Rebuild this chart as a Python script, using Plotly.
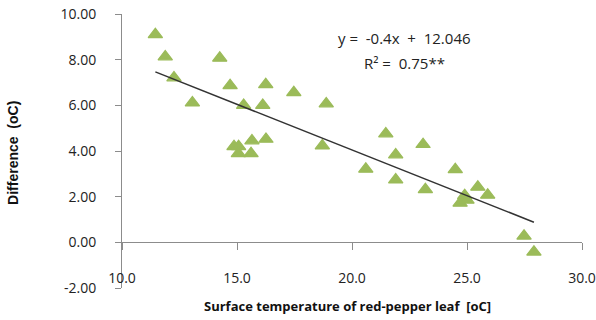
import plotly.graph_objects as go

# Data
leaf_temp = [11.45, 11.88, 12.26, 13.06, 14.25, 14.70, 16.25, 15.29, 16.12,
             14.87, 15.07, 15.06, 15.65, 15.61, 16.26, 17.47, 18.88, 21.47,
             18.71, 23.09, 21.90, 20.60, 21.90, 24.49, 23.19, 25.47, 25.90,
             24.90, 24.70, 25.00, 27.48, 27.91]
difference = [9.10, 8.13, 7.21, 6.11, 8.07, 6.87, 6.91, 6.00, 6.00,
              4.20, 4.20, 3.89, 4.45, 3.89, 4.52, 6.56, 6.07, 4.76,
              4.23, 4.29, 3.84, 3.21, 2.74, 3.19, 2.31, 2.42, 2.07,
              2.05, 1.72, 1.85, 0.28, -0.42]

slope = -0.4
intercept = 12.046
eq_text = "y =\u00a0 -0.4x\u00a0 +\u00a0 12.046"
r2_text = "R² =\u00a0 0.75**"

x_title = "Surface temperature of red-pepper leaf  [oC]"
y_title = "Difference  (oC)"

x_range = [10, 30]
y_range = [-2, 10]
x_tickvals = [10, 15, 20, 25, 30]
x_ticktext = ["10.0", "15.0", "20.0", "25.0", "30.0"]
y_tickvals = [-2, 0, 2, 4, 6, 8, 10]
y_ticktext = ["-2.00", "0.00", "2.00", "4.00", "6.00", "8.00", "10.00"]

trend_x = [min(leaf_temp), max(leaf_temp)]
trend_y = [slope * v + intercept for v in trend_x]

font_family = "Open Sans, Noto Sans, DejaVu Sans, sans-serif"

fig = go.Figure()
fig.add_trace(go.Scatter(
    x=leaf_temp, y=difference, mode="markers",
    marker=dict(symbol="triangle-up", size=12.5, color="#9BBB59",
                line=dict(width=1.2, color="#9BBB59")),
    showlegend=False, hoverinfo="skip"))
fig.add_trace(go.Scatter(
    x=trend_x, y=trend_y, mode="lines",
    line=dict(color="#333333", width=1.5),
    showlegend=False, hoverinfo="skip"))

zero_pos = (0 - y_range[0]) / (y_range[1] - y_range[0])

fig.update_layout(
    width=596, height=320,
    margin=dict(l=122, r=14, t=14, b=32),
    paper_bgcolor="white", plot_bgcolor="white",
    font=dict(family=font_family, size=14, color="#222222"),
    xaxis=dict(range=x_range, tickvals=x_tickvals, ticktext=x_ticktext,
               showgrid=False, zeroline=False, automargin=False,
               showline=True, linecolor="#8c8c8c", linewidth=1,
               ticks="outside", ticklen=7, tickcolor="#8c8c8c",
               anchor="free", position=zero_pos,
               ticklabelstandoff=16,
               tickfont=dict(size=14)),
    yaxis=dict(range=y_range, tickvals=y_tickvals, ticktext=y_ticktext,
               showgrid=False, zeroline=False, automargin=False,
               showline=True, linecolor="#8c8c8c", linewidth=1,
               ticks="outside", ticklen=6, tickcolor="#8c8c8c",
               ticklabelstandoff=16,
               tickfont=dict(size=14)),
    annotations=[
        dict(text=eq_text, x=0.614, y=0.955, xref="paper", yref="paper",
             xanchor="center", showarrow=False,
             font=dict(size=15, color="#222222")),
        dict(text=r2_text, x=0.614, y=0.865, xref="paper", yref="paper",
             xanchor="center", showarrow=False,
             font=dict(size=15, color="#222222")),
        dict(text="<b>" + x_title + "</b>", x=0.49, y=-0.065,
             xref="paper", yref="paper", xanchor="center", yanchor="middle",
             showarrow=False, font=dict(size=13, color="#111111")),
        dict(text="<b>" + y_title + "</b>", x=-0.237, y=0.493,
             xref="paper", yref="paper", textangle=-90,
             xanchor="center", yanchor="middle", showarrow=False,
             font=dict(family="Liberation Sans, Arial, sans-serif",
                       size=14, color="#111111")),
    ],
)

fig.write_html("out.html")
